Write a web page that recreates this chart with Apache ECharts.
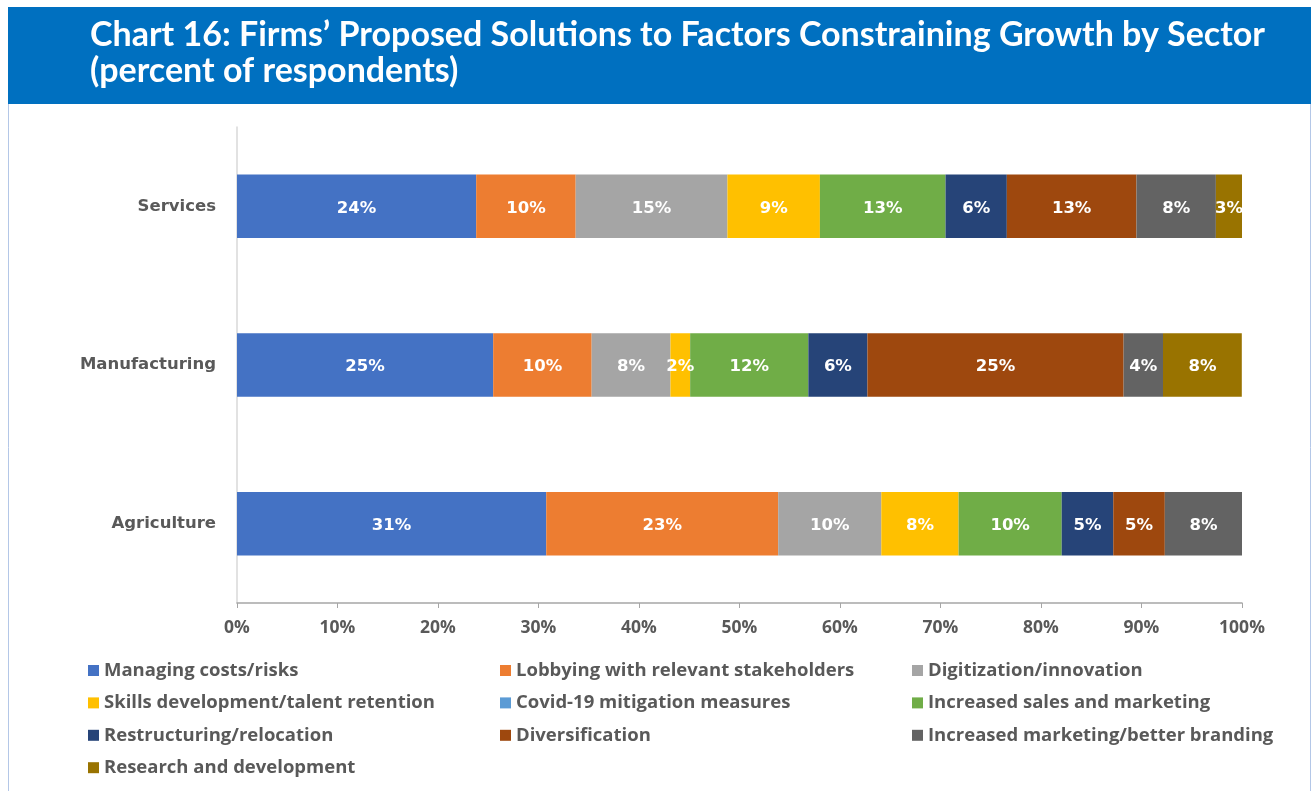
<!DOCTYPE html>
<html>
<head>
<meta charset="utf-8">
<script src="https://cdn.jsdelivr.net/npm/echarts@6/dist/echarts.min.js"></script>
<style>
  html, body { margin: 0; padding: 0; background: #ffffff; }
  #chart { width: 1316px; height: 791px; }
</style>
</head>
<body>
<div id="chart"></div>
<script>
// Sectors, listed top to bottom
const sectors = ['Services', 'Manufacturing', 'Agriculture'];

// Proposed solutions (stack order, left to right)
const solutions = [
  'Managing costs/risks',
  'Lobbying with relevant stakeholders',
  'Digitization/innovation',
  'Skills development/talent retention',
  'Covid-19 mitigation measures',
  'Increased sales and marketing',
  'Restructuring/relocation',
  'Diversification',
  'Increased marketing/better branding',
  'Research and development'
];

// Share of respondents (%) per solution, one array per sector
const servicesShare      = [23.8, 9.9, 15.1, 9.2, 0, 12.5, 6.1, 12.9, 7.9, 2.6];
const manufacturingShare = [25.49, 9.8, 7.84, 1.96, 0, 11.76, 5.88, 25.49, 3.92, 7.84];
const agricultureShare   = [30.77, 23.08, 10.26, 7.69, 0, 10.26, 5.13, 5.13, 7.69, 0];

const xTicks = [0, 10, 20, 30, 40, 50, 60, 70, 80, 90, 100];

const palette = ['#4472C4', '#ED7D31', '#A5A5A5', '#FFC000', '#5B9BD5',
                 '#70AD47', '#264478', '#9E480E', '#636363', '#997300'];

const shareBySector = [servicesShare, manufacturingShare, agricultureShare];

const series = solutions.map((name, i) => ({
  name: name,
  type: 'bar',
  stack: 'total',
  barWidth: '40%',
  itemStyle: { color: palette[i] },
  label: {
    show: true,
    position: 'inside',
    offset: [0, 2],
    color: '#ffffff',
    fontFamily: 'DejaVu Sans',
    fontWeight: 'bold',
    fontSize: 16.5,
    formatter: p => (p.value > 0 ? Math.round(p.value) + '%' : '')
  },
  emphasis: { disabled: true },
  data: shareBySector.map(arr => arr[i])
}));

// Legend laid out as a 3-column grid
const legends = solutions.map((name, i) => ({
  data: [name],
  left: 88 + (i % 3) * 412,
  top: 661 + Math.floor(i / 3) * 32.4,
  itemWidth: 11,
  itemHeight: 11,
  icon: 'rect',
  itemGap: 0,
  padding: 0,
  selectedMode: false,
  textStyle: {
    fontFamily: 'Open Sans',
    fontWeight: 'bold',
    fontSize: 18.5,
    color: '#595959',
    padding: [0, 0, 0, 0]
  }
}));

const chart = echarts.init(document.getElementById('chart'), null, { renderer: 'canvas' });

chart.setOption({
  animation: false,
  color: palette,
  title: {
    text: 'Chart 16: Firms\u2019 Proposed Solutions to Factors Constraining Growth by Sector\n(percent of respondents)',
    left: 90,
    top: 17,
    padding: 0,
    textStyle: {
      fontFamily: 'Lato',
      fontWeight: 'bold',
      fontSize: 34,
      lineHeight: 36,
      color: '#ffffff'
    }
  },
  graphic: [
    {
      type: 'rect',
      z: -1,
      shape: { x: 8, y: 7, width: 1303, height: 97 },
      style: { fill: '#0070C0' }
    },
    {
      type: 'line',
      shape: { x1: 8.5, y1: 104, x2: 8.5, y2: 791 },
      style: { stroke: '#B4C7E7', lineWidth: 1 }
    },
    {
      type: 'line',
      shape: { x1: 1310.5, y1: 104, x2: 1310.5, y2: 791 },
      style: { stroke: '#B4C7E7', lineWidth: 1 }
    }
  ],
  legend: legends,
  grid: { left: 237, right: 74, top: 127, bottom: 188, containLabel: false },
  xAxis: {
    type: 'value',
    min: 0,
    max: 100,
    interval: 10,
    axisLine: { show: true, lineStyle: { color: '#A6A6A6', width: 1.5 } },
    axisTick: { show: true, length: 5, lineStyle: { color: '#A6A6A6' } },
    splitLine: { show: false },
    axisLabel: {
      margin: 16,
      fontFamily: 'Open Sans',
      fontWeight: 'bold',
      fontSize: 17.5,
      color: '#595959',
      formatter: v => (xTicks.includes(v) ? v + '%' : '')
    }
  },
  yAxis: {
    type: 'category',
    inverse: true,
    data: sectors,
    axisLine: { show: true, lineStyle: { color: '#D9D9D9', width: 1.5 } },
    axisTick: { show: false },
    axisLabel: {
      margin: 21,
      fontFamily: 'DejaVu Sans',
      fontWeight: 'bold',
      fontSize: 16.5,
      color: '#595959',
      padding: [3, 0, 0, 0]
    }
  },
  series: series
});
</script>
</body>
</html>
